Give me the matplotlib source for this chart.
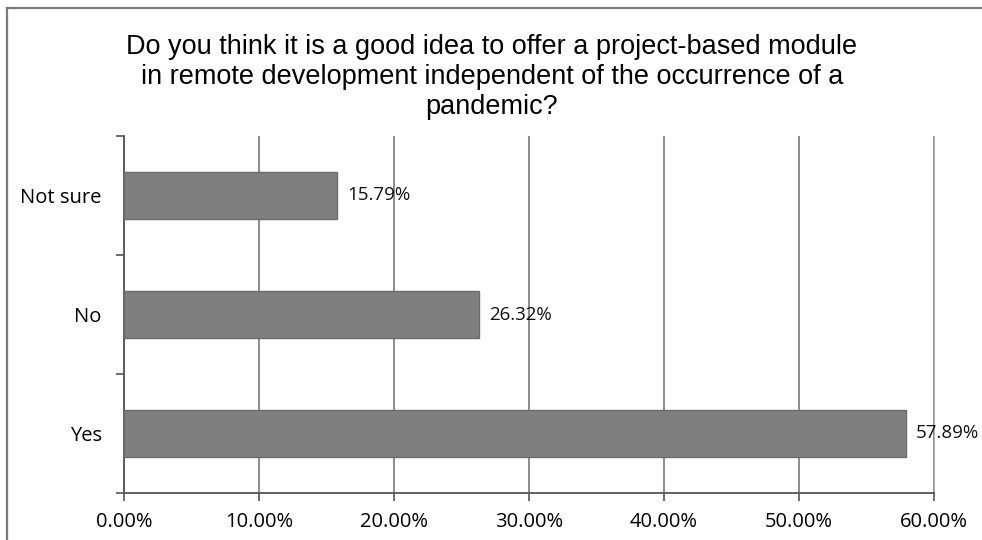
import numpy as np
from matplotlib import pyplot as plt
from matplotlib.ticker import FixedLocator


categories = ["Yes", "No", "Not sure"]
shares = [57.89, 26.32, 15.79]
x_ticks = [0, 10, 20, 30, 40, 50, 60]
x_tick_labels = ["0.00%", "10.00%", "20.00%", "30.00%", "40.00%", "50.00%", "60.00%"]

title = (
    "Do you think it is a good idea to offer a project-based module\n"
    "in remote development independent of the occurrence of a\n"
    "pandemic?"
)

label_font = ["Open Sans", "DejaVu Sans"]


def main():
    fig = plt.figure(figsize=(9.82, 5.4), dpi=100)
    fig.patch.set_facecolor("white")

    # outer chart frame: only top and left edges show
    fig.add_artist(plt.Line2D([7 / 982, 7 / 982], [0, 1 - 8 / 540],
                              transform=fig.transFigure, color="#7a7a7a", lw=1.6))
    fig.add_artist(plt.Line2D([7 / 982, 1], [1 - 8 / 540, 1 - 8 / 540],
                              transform=fig.transFigure, color="#7a7a7a", lw=1.6))

    ax = fig.add_axes([124 / 982, 47 / 540, 810 / 982, 357 / 540])

    y = np.arange(len(categories))
    ax.barh(y, shares, height=0.39, color="#7f7f7f", edgecolor="#6b6b6b",
            linewidth=1.0, zorder=3)

    for yi, v in zip(y, shares):
        ax.text(v + 0.75, yi, f"{v:.2f}%", va="center", ha="left",
                fontsize=13.5, family=label_font, color="#111111", zorder=4)

    ax.set_xlim(0, 60)
    ax.set_ylim(-0.5, len(categories) - 0.5)
    ax.set_xticks(x_ticks)
    ax.set_xticklabels(x_tick_labels, family=label_font, fontsize=14.5)
    ax.set_yticks(y)
    ax.set_yticklabels(categories, family=label_font, fontsize=14.5)
    ax.yaxis.set_minor_locator(FixedLocator(np.arange(-0.5, len(categories), 1.0)))

    ax.tick_params(axis="y", which="major", length=0, pad=16)
    ax.tick_params(axis="y", which="minor", length=6, width=1.2, color="#555555")
    ax.tick_params(axis="x", length=6, width=1.2, color="#555555", pad=8)

    ax.grid(axis="x", color="#6e6e6e", lw=1.1, zorder=1)
    ax.set_axisbelow(True)

    for side in ("left", "bottom"):
        ax.spines[side].set_color("#555555")
        ax.spines[side].set_linewidth(1.3)
    ax.spines["right"].set_color("#b0b0b0")
    ax.spines["top"].set_visible(False)

    fig.text(0.501, 1 - 34 / 540, title, ha="center", va="top",
             fontsize=19.5, family="Liberation Sans", linespacing=1.2)

    fig.savefig("out.png", dpi=100)


if __name__ == "__main__":
    main()
